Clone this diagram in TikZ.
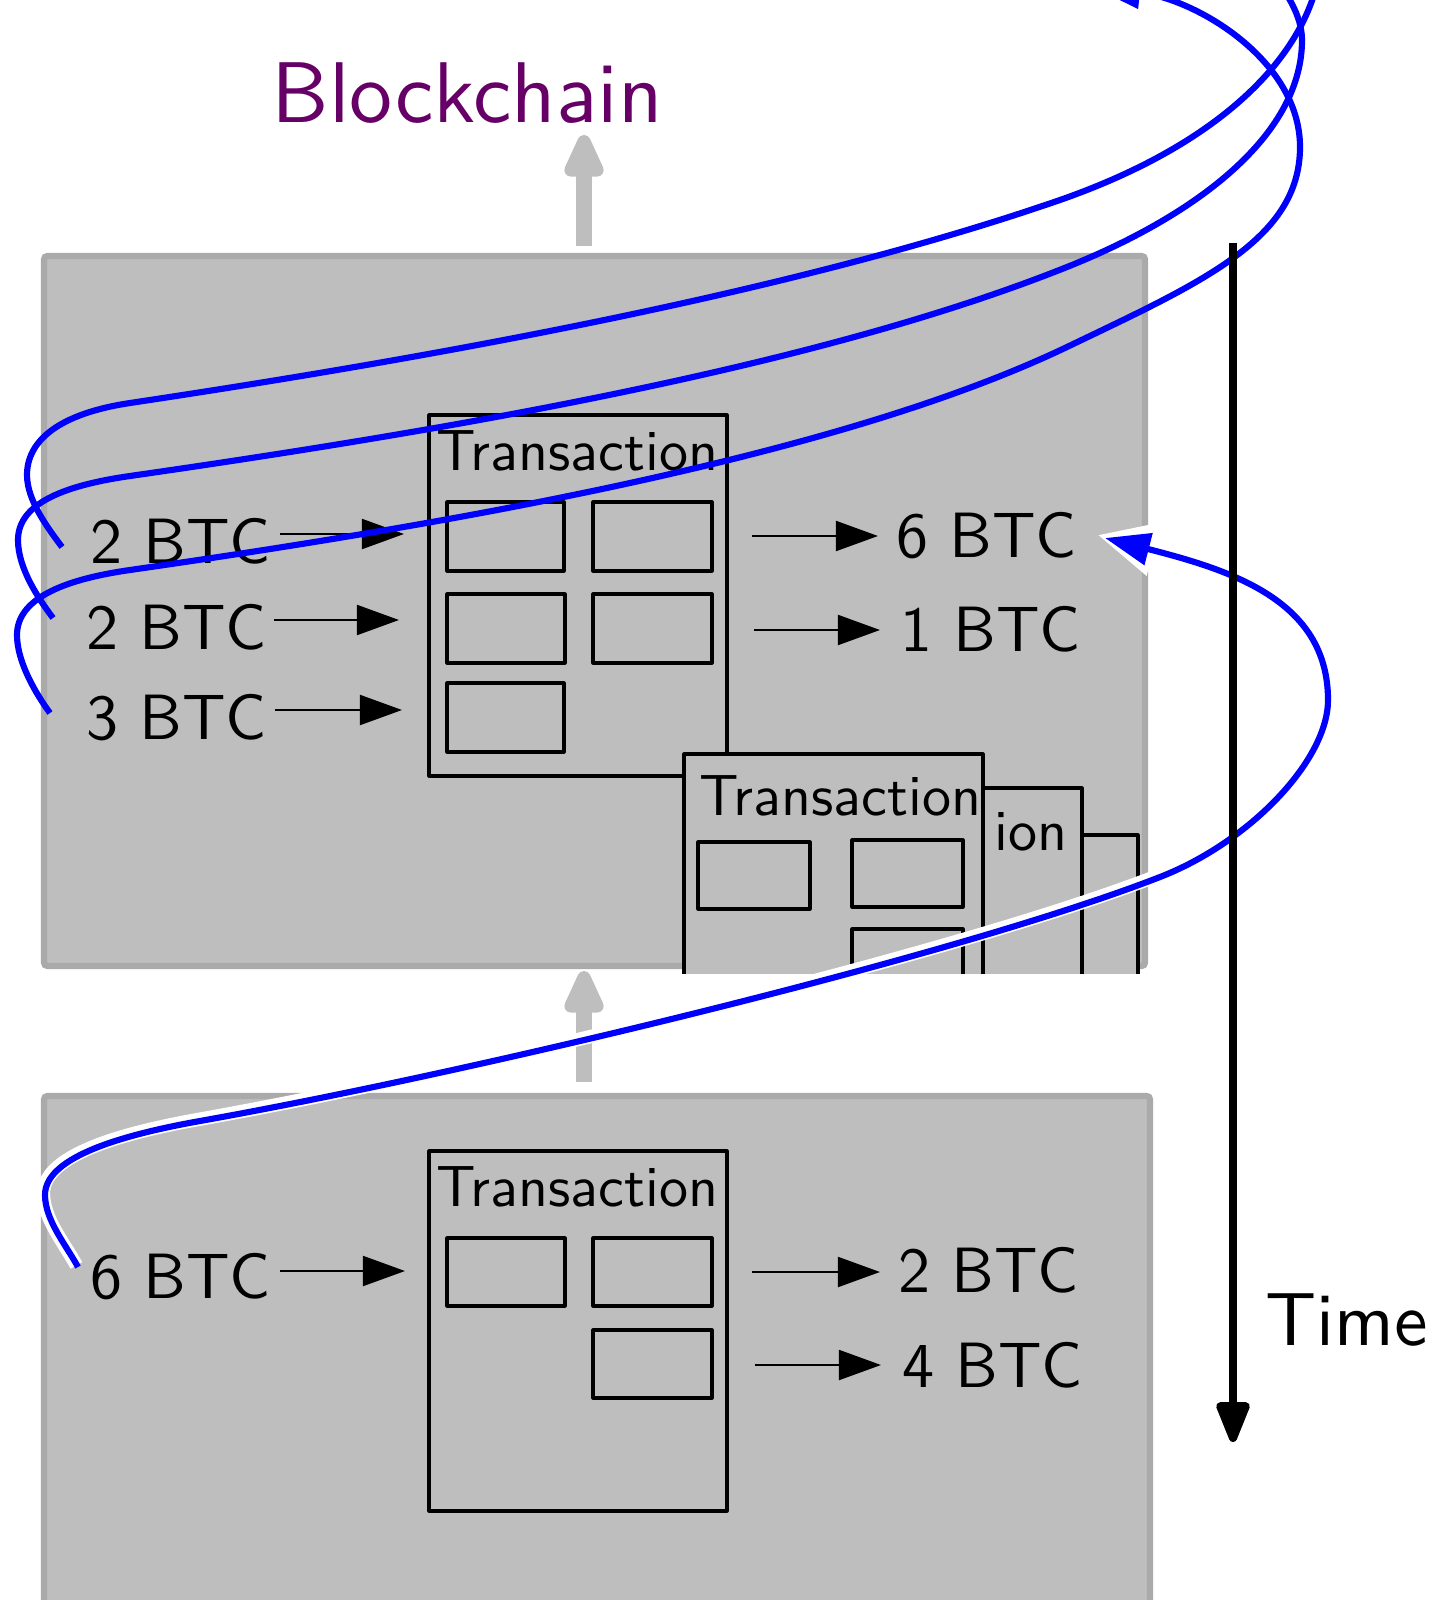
\documentclass[tikz,border=0pt]{standalone}
\usetikzlibrary{arrows.meta}
\definecolor{blockfill}{RGB}{190,190,190}
\definecolor{blockedge}{RGB}{170,170,170}
\definecolor{bcpurple}{RGB}{102,0,102}
\begin{document}
\begin{tikzpicture}[x=0.01cm, y=-0.01cm,
  blk/.style={fill=blockfill, draw=blockedge, line width=1.8pt, rounded corners=1pt},
  txbox/.style={draw=black, fill=blockfill, line width=0.9pt, line join=round},
  slot/.style={draw=black, line width=0.9pt, line join=round},
  lbl/.style={anchor=base west, inner sep=0pt, scale=1.82, font=\sffamily},
  txt/.style={anchor=base west, inner sep=0pt, scale=1.65, font=\sffamily},
  flow/.style={draw=black, line width=0.8pt, -{Triangle[length=12pt,width=8.5pt]}},
  spend/.style={draw=blue, line width=1.75pt},
  spendtip/.style={-{Triangle[length=12.8pt,width=9pt]}},
  chainarrow/.style={draw=blockfill, line width=4.5pt, -{Triangle[round,length=15pt,width=12pt]}},
  timearrow/.style={draw=black, line width=2.3pt, -{Triangle[round,length=13.5pt,width=10pt]}}]
\useasboundingbox (0,0) rectangle (1443,1600);
\clip (0,0) rectangle (1443,1600);

% ---------- blocks ----------
\draw[blk] (44,256) rectangle (1145,966);
\draw[blk] (44,1096) rectangle (1150,1700);

% ---------- chain arrows ----------
\coordinate (g1s) at (584,246);
\coordinate (g1e) at (584,135);
\coordinate (g2s) at (584,1082);
\coordinate (g2e) at (584,971);
\draw[chainarrow] (g1s) -- (g1e);
\draw[chainarrow] (g2s) -- (g2e);

\node[anchor=base west, inner sep=0pt, scale=2.45, font=\sffamily, text=bcpurple] (title) at (270,123) {Blockchain};

% ---------- upper block transactions ----------
\draw[txbox] (429,415) rectangle (727,776);
\node[txt] (tx1) at (435,470) {Transaction};
\draw[slot] (447,502) rectangle (564,571);
\draw[slot] (593,502) rectangle (712,571);
\draw[slot] (447,594) rectangle (565,663);
\draw[slot] (593,594) rectangle (712,663);
\draw[slot] (447,683) rectangle (564,752);

\begin{scope}
\clip (0,0) rectangle (1443,973);
\draw[txbox] (838,835) rectangle (1138,1000);
\draw[txbox] (782,788) rectangle (1082,1000);
\node[txt] (tx3) at (993,850) {ion};
\draw[txbox] (684,754) rectangle (983,1000);
\node[txt] (tx2) at (698,815) {Transaction};
\draw[slot] (698,842) rectangle (810,909);
\draw[slot] (852,840) rectangle (963,907);
\draw[slot] (852,929) rectangle (963,1000);
\end{scope}

% inputs / outputs, upper block
\node[lbl] (in1) at (89,563) {2 BTC};
\node[lbl] (in2) at (85,649) {2 BTC};
\node[lbl] (in3) at (85,739) {3 BTC};
\node[lbl] (out1) at (895,557) {6 BTC};
\node[lbl] (out2) at (899,651) {1 BTC};
\coordinate (a1s) at (280,534); \coordinate (a1e) at (404,534);
\coordinate (a2s) at (274,620); \coordinate (a2e) at (399,620);
\coordinate (a3s) at (275,710); \coordinate (a3e) at (402,710);
\coordinate (b1s) at (752,536); \coordinate (b1e) at (878,536);
\coordinate (b2s) at (754,630); \coordinate (b2e) at (880,630);
\draw[flow] (a1s) -- (a1e);
\draw[flow] (a2s) -- (a2e);
\draw[flow] (a3s) -- (a3e);
\draw[flow] (b1s) -- (b1e);
\draw[flow] (b2s) -- (b2e);

% ---------- lower block transaction ----------
\draw[txbox] (429,1151) rectangle (727,1511);
\node[txt] (tx0) at (435,1206) {Transaction};
\draw[slot] (447,1238) rectangle (565,1306);
\draw[slot] (593,1238) rectangle (712,1306);
\draw[slot] (593,1330) rectangle (712,1398);
\node[lbl] (lin1) at (89,1298) {6 BTC};
\node[lbl] (lout1) at (897,1292) {2 BTC};
\node[lbl] (lout2) at (901,1387) {4 BTC};
\coordinate (c1s) at (280,1271); \coordinate (c1e) at (405,1271);
\coordinate (d1s) at (752,1272); \coordinate (d1e) at (880,1272);
\coordinate (d2s) at (755,1365); \coordinate (d2e) at (881,1365);
\draw[flow] (c1s) -- (c1e);
\draw[flow] (d1s) -- (d1e);
\draw[flow] (d2s) -- (d2e);

% ---------- spend links ----------
\coordinate (s1) at (62,547);
\coordinate (e1) at (1318,-20);
\coordinate (s2) at (53,618);
\coordinate (e2) at (1272,-25);
\coordinate (s3) at (50,713);
\coordinate (e3) at (1095,-12);
\coordinate (s4) at (78,1267);
\coordinate (e4) at (1105,538);

\draw[spend] (s1) .. controls (47,527) and (27,500) .. (27,475)
  .. controls (27,440) and (60,413.5) .. (130,403)
  .. controls (450,355) and (800,290) .. (1060,200)
  .. controls (1220,144) and (1300,60) .. (e1);
\draw[spend] (s2) .. controls (38,598) and (18,568) .. (18,540)
  .. controls (18,505) and (60,486) .. (130,476)
  .. controls (450,430) and (817,367) .. (1067,267)
  .. controls (1207,211) and (1302,130) .. (1302,40)
  .. controls (1302,15) and (1285,-10) .. (e2);
\draw[spend, spendtip] (s3) .. controls (36,694) and (17,662) .. (17,635)
  .. controls (17,600) and (60,580) .. (130,570)
  .. controls (450,524) and (837,457) .. (1067,347)
  .. controls (1200,283) and (1300,240) .. (1300,147)
  .. controls (1300,60) and (1195,-2) .. (e3);
\draw[spend, spendtip,
  preaction={draw=white, line width=3.8pt, -{Triangle[length=16.5pt,width=14.5pt]}, shorten >=-1.8pt,
    transform canvas={xshift=-0.45pt, yshift=0.45pt}}]
  (s4) .. controls (66,1245) and (45,1220) .. (45,1195)
  .. controls (45,1160) and (110,1137) .. (200,1121)
  .. controls (480,1071) and (960,955) .. (1160,877)
  .. controls (1250,842) and (1328,760) .. (1328,700)
  .. controls (1328,600) and (1230,570) .. (e4);

% ---------- time ----------
\coordinate (t0) at (1233,243);
\coordinate (t1) at (1233,1442);
\draw[timearrow] (t0) -- (t1);
\node[anchor=base west, inner sep=0pt, scale=2.14, font=\sffamily] (timelbl) at (1264,1345) {Time};
\end{tikzpicture}
\end{document}
